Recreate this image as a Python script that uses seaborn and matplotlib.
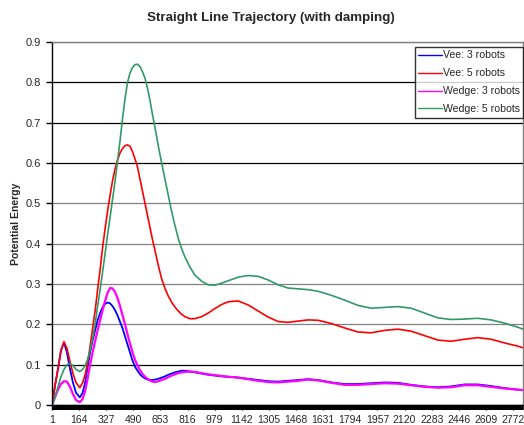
import matplotlib
matplotlib.use("Agg")
import matplotlib.pyplot as plt
import seaborn as sns
import pandas as pd

# ---------------- data ----------------
step = [1, 20, 37, 55, 73, 91, 109, 127, 146, 168,
        185, 200, 215, 230, 245, 260, 275, 290, 305, 320,
        336, 350, 365, 380, 395, 410, 425, 440, 455, 470,
        485, 500, 515, 530, 545, 560, 575, 590, 605, 620,
        640, 660, 680, 700, 720, 740, 760, 780, 800, 830,
        860, 900, 940, 980, 1020, 1060, 1120, 1180, 1240, 1300,
        1360, 1420, 1480, 1540, 1600, 1680, 1760, 1840, 1920, 2000,
        2080, 2160, 2240, 2320, 2400, 2480, 2560, 2640, 2720, 2800,
        2832]

vee3 = [0, 0.05, 0.09, 0.135, 0.155, 0.13, 0.09, 0.055, 0.03, 0.019,
        0.03, 0.055, 0.095, 0.13, 0.16, 0.185, 0.21, 0.228, 0.242, 0.251,
        0.254, 0.252, 0.245, 0.235, 0.222, 0.206, 0.19, 0.17, 0.15, 0.13,
        0.11, 0.095, 0.085, 0.076, 0.07, 0.066, 0.063, 0.062, 0.062, 0.063,
        0.065, 0.068, 0.071, 0.075, 0.078, 0.081, 0.083, 0.085, 0.085, 0.083,
        0.081, 0.078, 0.075, 0.073, 0.071, 0.070, 0.068, 0.065, 0.062, 0.059,
        0.058, 0.060, 0.062, 0.064, 0.062, 0.056, 0.052, 0.052, 0.054, 0.056,
        0.055, 0.05, 0.046, 0.044, 0.046, 0.051, 0.051, 0.047, 0.042, 0.038,
        0.037]

vee5 = [0, 0.05, 0.09, 0.135, 0.157, 0.14, 0.108, 0.078, 0.055, 0.043,
        0.055, 0.075, 0.105, 0.145, 0.19, 0.233, 0.285, 0.335, 0.39, 0.437,
        0.483, 0.52, 0.556, 0.585, 0.607, 0.625, 0.636, 0.643, 0.645, 0.641,
        0.628, 0.61, 0.59, 0.56, 0.53, 0.50, 0.47, 0.44, 0.41, 0.383,
        0.346, 0.313, 0.289, 0.27, 0.255, 0.243, 0.233, 0.225, 0.219, 0.214,
        0.214, 0.219, 0.228, 0.239, 0.249, 0.256, 0.258, 0.248, 0.233, 0.218,
        0.207, 0.205, 0.208, 0.211, 0.210, 0.202, 0.191, 0.181, 0.179, 0.185,
        0.188, 0.183, 0.172, 0.161, 0.158, 0.163, 0.167, 0.163, 0.154, 0.146,
        0.142]

wedge3 = [0, 0.02, 0.038, 0.052, 0.059, 0.058, 0.045, 0.027, 0.012, 0.007,
          0.015, 0.035, 0.065, 0.1, 0.13, 0.158, 0.185, 0.21, 0.235, 0.258,
          0.279, 0.29, 0.289, 0.28, 0.265, 0.245, 0.222, 0.2, 0.175, 0.152,
          0.13, 0.112, 0.098, 0.086, 0.077, 0.07, 0.065, 0.061, 0.058, 0.057,
          0.059, 0.062, 0.065, 0.069, 0.073, 0.076, 0.079, 0.081, 0.082, 0.083,
          0.082, 0.079, 0.076, 0.074, 0.072, 0.070, 0.068, 0.064, 0.060, 0.057,
          0.056, 0.058, 0.060, 0.063, 0.061, 0.055, 0.05, 0.050, 0.052, 0.054,
          0.053, 0.049, 0.045, 0.043, 0.044, 0.049, 0.049, 0.045, 0.041, 0.038,
          0.037]

wedge5 = [0, 0.02, 0.045, 0.07, 0.088, 0.1, 0.103, 0.098, 0.088, 0.083,
          0.088, 0.098, 0.113, 0.135, 0.165, 0.2, 0.245, 0.285, 0.33, 0.375,
          0.425, 0.465, 0.51, 0.555, 0.605, 0.655, 0.71, 0.76, 0.80, 0.823,
          0.837, 0.844, 0.845, 0.839, 0.826, 0.81, 0.785, 0.755, 0.72, 0.688,
          0.642, 0.60, 0.56, 0.52, 0.48, 0.445, 0.413, 0.388, 0.367, 0.342,
          0.322, 0.307, 0.298, 0.297, 0.302, 0.308, 0.317, 0.321, 0.319, 0.31,
          0.298, 0.29, 0.288, 0.286, 0.282, 0.272, 0.26, 0.247, 0.24, 0.242,
          0.244, 0.24, 0.228, 0.216, 0.212, 0.213, 0.215, 0.211, 0.203, 0.193,
          0.188]

series_names = ["Vee: 3 robots", "Vee: 5 robots", "Wedge: 3 robots", "Wedge: 5 robots"]
n_steps = 2832
tick_labels = [str(v) for v in range(1, 2773, 163)]
y_ticks = [0, 0.1, 0.2, 0.3, 0.4, 0.5, 0.6, 0.7, 0.8, 0.9]

# ---------------- plot ----------------
sns.set_style("white")
plt.rcParams["font.family"] = ["Liberation Sans", "DejaVu Sans"]

frames = []
for name, vals in zip(series_names, [vee3, vee5, wedge3, wedge5]):
    frames.append(pd.DataFrame({"step": step, "energy": vals, "series": name}))
df = pd.concat(frames, ignore_index=True)

colors = {"Vee: 3 robots": "#0000FF", "Vee: 5 robots": "#FF0000",
          "Wedge: 3 robots": "#FF00FF", "Wedge: 5 robots": "#339966"}
widths = {"Vee: 3 robots": 1.3, "Vee: 5 robots": 1.2,
          "Wedge: 3 robots": 1.6, "Wedge: 5 robots": 1.2}

fig = plt.figure(figsize=(5.24, 4.25), dpi=100)
ax = fig.add_axes([52 / 524, (425 - 405) / 425, (523 - 52) / 524, (405 - 42) / 425])

for name in series_names:
    sub = df[df["series"] == name]
    sns.lineplot(data=sub, x="step", y="energy", color=colors[name],
                 linewidth=widths[name], ax=ax, label=name)

ax.set_xlim(1, n_steps)
ax.set_ylim(0, 0.9)
ax.set_yticks(y_ticks)
ax.set_yticklabels(["0" if v == 0 else f"{v:g}" for v in y_ticks], fontsize=8)
ax.set_xticks([int(t) for t in tick_labels])
ax.set_xticklabels(tick_labels, fontsize=7.5)
ax.set_xticks(range(1, n_steps + 1, 4), minor=True)
ax.tick_params(axis="x", which="major", bottom=True, length=3.5, width=1,
               color="black", pad=3.5)
ax.tick_params(axis="x", which="minor", bottom=True, length=3.5, width=1.2,
               color="black")
ax.tick_params(axis="y", which="major", left=True, length=4, width=1,
               color="black", pad=4)

ax.grid(axis="y", linewidth=0.9)
grid_cols = ["black", "black", "#808080", "#808080", "#808080", "#808080",
             "black", "black", "black", "#808080"]
for gl, c in zip(ax.yaxis.get_gridlines(), grid_cols):
    gl.set_color(c)

for s in ["top", "right"]:
    ax.spines[s].set_color("#808080")
    ax.spines[s].set_linewidth(1.0)
ax.spines["left"].set_color("black")
ax.spines["left"].set_linewidth(1.0)
ax.spines["bottom"].set_color("black")
ax.spines["bottom"].set_linewidth(1.0)

ax.set_xlabel("")
ax.set_ylabel("Potential Energy", fontsize=7.5, fontweight="bold", labelpad=3)

fig.text(271 / 524, 1 - 18 / 425, "Straight Line Trajectory (with damping)",
         ha="center", va="center", fontsize=9.6, fontweight="bold")

leg = ax.legend(loc="upper right", bbox_to_anchor=(1.001, 0.987), borderaxespad=0,
                fontsize=7.6, frameon=True, fancybox=False, handlelength=2.2,
                handletextpad=0.12, labelspacing=0.75, borderpad=0.35)
leg.get_frame().set_edgecolor("black")
leg.get_frame().set_linewidth(1.0)
for h in leg.get_lines():
    h.set_linewidth(1.0)

fig.savefig("out.png", dpi=100)
